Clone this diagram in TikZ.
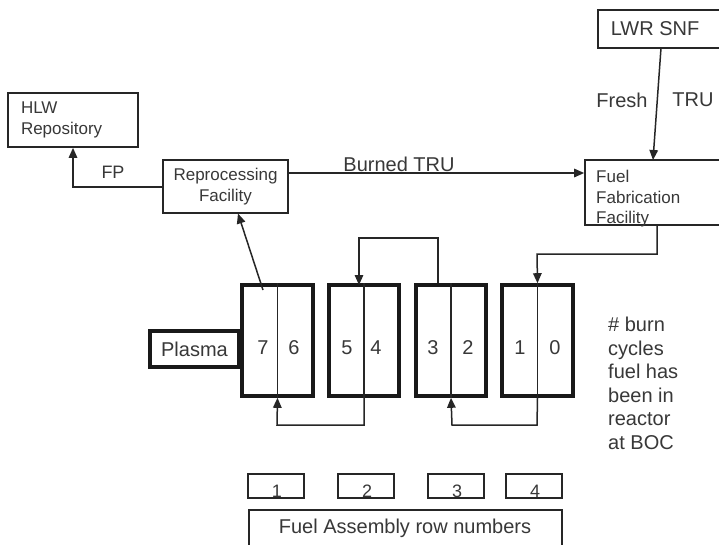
\documentclass[tikz,border=0pt]{standalone}
\usepackage{fontspec}
\setmainfont{Liberation Sans}
\usetikzlibrary{arrows.meta}
\definecolor{txt}{gray}{0.22}
\definecolor{ln}{gray}{0.15}
\begin{document}
\begin{tikzpicture}[x=1pt,y=-1pt,
  box/.style={draw=ln,line width=1.7pt,inner sep=0pt,text=txt},
  thick box/.style={draw=black!90,line width=3.6pt,inner sep=0pt,text=txt},
  conn/.style={draw=ln,line width=1.5pt},
  arr/.style={conn,-{Triangle[length=10pt,width=8.5pt]}},
  lbl/.style={text=txt,inner sep=0pt,font=\fontsize{20}{24}\selectfont},
  small/.style={font=\fontsize{17}{20.5}\selectfont}]
\clip (0,0) rectangle (719,544);
\fill[white] (0,0) rectangle (719,544);

% top boxes
\node[box,small,minimum width=130pt,minimum height=54pt,text width=104pt,align=left] (hlw) at (73,120) {HLW\\Repository};
\node[box,small,minimum width=125pt,minimum height=53pt,align=center] (rep) at (225.5,186.5) {Reprocessing\\Facility};
\node[box,minimum width=140pt,minimum height=65pt] (fab) at (655,192.5) {};
\node[lbl,small,anchor=north west,align=left,font=\fontsize{17}{20.5}\selectfont] (fabt) at (596,170) {Fuel\\Fabrication\\Facility};
\node[box,minimum width=130pt,minimum height=38pt] (lwr) at (663,29) {};
\node[lbl] (lwrt) at (655,29) {LWR SNF};

% top connectors
\draw[arr] (rep.west |- 0,187) -- (73,187) -- (hlw.south);
\node[lbl,font=\fontsize{18}{22}\selectfont] (fp) at (113,172) {FP};
\draw[arr] (rep.east |- 0,173) -- (fab.west |- 0,173);
\node[lbl] (btru) at (399,164) {Burned TRU};
\coordinate (lwrb) at (661,48);
\coordinate (fabtop) at (653,160);
\draw[arr] (lwrb) -- (fabtop);
\node[lbl] (fresh) at (622,100) {Fresh};
\node[lbl] (tru) at (693,100) {TRU};

% plasma and assemblies
\node[thick box,minimum width=89pt,minimum height=36pt,font=\fontsize{20}{24}\selectfont] (plasma) at (194.5,349) {Plasma};
\foreach \n/\xl/\xr in {a1/242/313,a2/329/399,a3/416/486,a4/502/573}{
  \node[thick box,minimum width={\xr-\xl},minimum height=111pt] (\n) at ({(\xl+\xr)/2},340.5) {};
  \draw[conn] (\n.north) -- (\n.south);
}
\foreach \t/\x in {7/263,6/294,5/347,4/376,3/433,2/468,1/520,0/555}{
  \node[lbl] (num\t) at (\x,348) {\t};
}

% assembly connectors
\draw[arr] (657,225) -- (657,254) -- (537,254) -- (a4.north);
\draw[arr] (a3.north -| 438,0) -- (438,238) -- (359,238) -- (359,285);
\draw[arr] (a2.south) -- (364,425) -- (277,425) -- (a1.south);
\draw[arr] (a4.south) -- (537,425) -- (452,425) -- (a3.south);
\coordinate (a1out) at (263,290);
\draw[arr] (a1out) -- (238,213.5);

% right text
\node[lbl,anchor=north west,align=left,font=\fontsize{20}{23.5}\selectfont] (note) at (608,317) {\# burn\\cycles\\fuel has\\been in\\reactor\\at BOC};

% row numbers
\foreach \i/\xl/\xr in {1/248/304,2/338/394,3/428/484,4/506/562}{
  \node[box,line width=1.4pt,minimum width={\xr-\xl},minimum height=24pt] (r\i) at ({(\xl+\xr)/2},486) {};
  \node[lbl,font=\fontsize{18}{22}\selectfont] (rt\i) at ({(\xl+\xr)/2+1},491) {\i};
}
\node[box,line width=1.6pt,minimum width=313pt,minimum height=50pt] (fa) at (405.5,535) {};
\node[lbl] (fat) at (405,528) {Fuel Assembly row numbers};
\end{tikzpicture}
\end{document}
